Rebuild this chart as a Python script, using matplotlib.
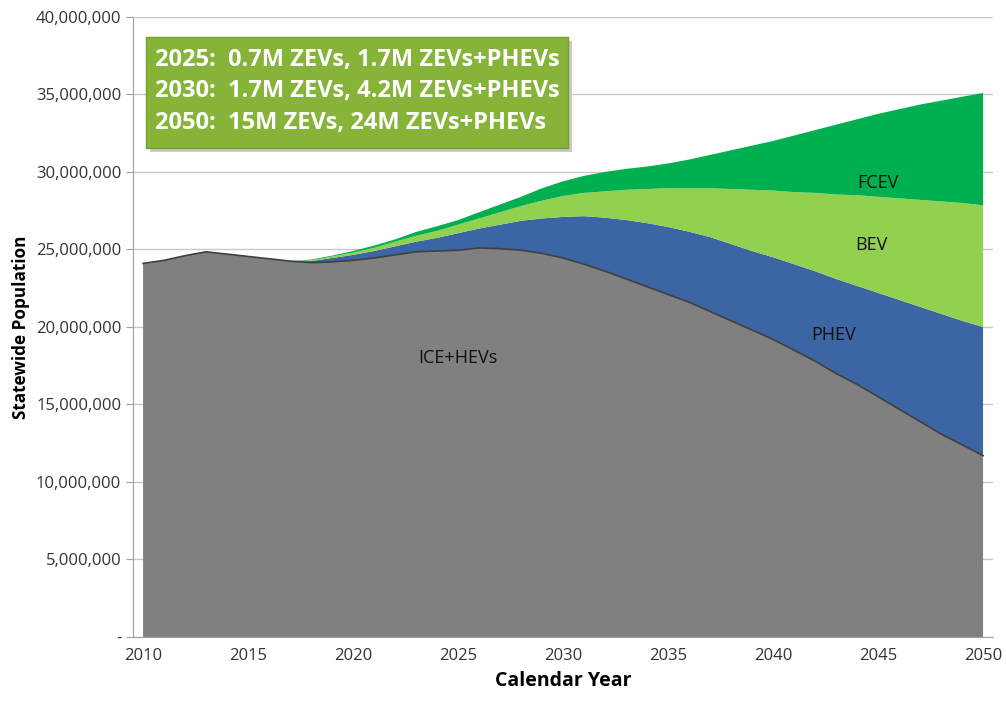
import matplotlib
matplotlib.use("Agg")
import matplotlib.pyplot as plt
import numpy as np
from matplotlib.patches import Rectangle
from matplotlib.ticker import FuncFormatter

plt.rcParams['font.family'] = ['Open Sans', 'DejaVu Sans']

years = list(range(2010, 2051))
ice_hev = [24.1, 24.3, 24.6, 24.85, 24.7, 24.55, 24.4, 24.25, 24.15, 24.2,
           24.3, 24.45, 24.65, 24.85, 24.9, 24.95, 25.1, 25.05, 24.95, 24.75,
           24.45, 24.05, 23.6, 23.1, 22.6, 22.1, 21.6, 21.0, 20.4, 19.8,
           19.2, 18.5, 17.8, 17.0, 16.3, 15.5, 14.7, 13.9, 13.1, 12.4, 11.7]
phev = [0, 0, 0, 0, 0, 0, 0, 0, 0.1, 0.25,
        0.35, 0.45, 0.55, 0.65, 0.85, 1.1, 1.25, 1.55, 1.9, 2.25,
        2.65, 3.1, 3.45, 3.8, 4.1, 4.35, 4.55, 4.8, 4.95, 5.1,
        5.3, 5.55, 5.8, 6.1, 6.35, 6.7, 7.05, 7.4, 7.75, 8.0, 8.3]
bev = [0, 0, 0, 0, 0, 0, 0, 0, 0.05, 0.1,
       0.15, 0.2, 0.3, 0.38, 0.45, 0.55, 0.65, 0.8, 0.95, 1.15,
       1.35, 1.5, 1.7, 1.95, 2.2, 2.5, 2.8, 3.15, 3.55, 3.95,
       4.3, 4.65, 5.05, 5.45, 5.85, 6.2, 6.55, 6.9, 7.25, 7.6, 7.85]
fcev = [0, 0, 0, 0, 0, 0, 0, 0, 0.05, 0.05,
        0.1, 0.15, 0.15, 0.25, 0.3, 0.3, 0.4, 0.5, 0.6, 0.8,
        0.95, 1.1, 1.25, 1.35, 1.45, 1.6, 1.85, 2.15, 2.5, 2.85,
        3.2, 3.65, 4.05, 4.5, 4.9, 5.35, 5.75, 6.15, 6.5, 6.85, 7.25]

series_names = ["ICE+HEVs", "PHEV", "BEV", "FCEV"]
colors = ["#808080", "#3c65a3", "#92d050", "#00b050"]
x_ticks = [2010, 2015, 2020, 2025, 2030, 2035, 2040, 2045, 2050]
y_ticks = [0, 5, 10, 15, 20, 25, 30, 35, 40]
summary_lines = ["2025:  0.7M ZEVs, 1.7M ZEVs+PHEVs",
                 "2030:  1.7M ZEVs, 4.2M ZEVs+PHEVs",
                 "2050:  15M ZEVs, 24M ZEVs+PHEVs"]

fig = plt.figure(figsize=(10.06, 7.04), dpi=100)
ax = fig.add_axes([0.1322, 0.0952, 0.855, 0.8807])

yrs = np.array(years)
vals = [np.array(v) * 1e6 for v in (ice_hev, phev, bev, fcev)]
ax.stackplot(yrs, *vals, colors=colors, linewidth=0, zorder=2)
ax.plot(yrs, vals[0], color="#404040", linewidth=1.2, zorder=3)

ax.set_xlim(2009.52, 2050.48)
ax.set_ylim(0, 40e6)
ax.set_xticks(x_ticks)
ax.set_yticks([v * 1e6 for v in y_ticks])
ax.yaxis.set_major_formatter(FuncFormatter(lambda v, p: "-" if v == 0 else f"{int(v):,}"))
ax.grid(axis='y', color="#c8c8c8", linewidth=1, zorder=0)
ax.set_axisbelow(True)
for s in ["top", "right"]:
    ax.spines[s].set_visible(False)
ax.spines["left"].set_color("#a0a0a0")
ax.spines["bottom"].set_color("#a0a0a0")
ax.tick_params(axis='y', length=5, color="#a0a0a0", labelsize=12, labelcolor="#333333")
ax.tick_params(axis='x', length=0, labelsize=12, labelcolor="#333333", pad=8)
ax.set_xlabel("Calendar Year", fontsize=14, fontweight="bold", labelpad=5)
ax.set_ylabel("Statewide Population", fontsize=12.3, fontweight="bold", labelpad=4)

label_pos = {"ICE+HEVs": (2025.0, 18.0e6), "PHEV": (2042.9, 19.5e6),
             "BEV": (2044.7, 25.3e6), "FCEV": (2045.0, 29.3e6)}
for name in series_names:
    xx, yy = label_pos[name]
    ax.text(xx, yy, name, fontsize=13, color="#111111", ha="center", va="center", zorder=5)

# summary box
bx0, by0, bw, bh = 146 / 1006, 1 - 148 / 704, 422 / 1006, 111 / 704
fig.patches.append(Rectangle((bx0 + 0.004, by0 - 0.006), bw, bh, transform=fig.transFigure,
                             facecolor="#c9c9c9", edgecolor="none", zorder=4))
fig.patches.append(Rectangle((bx0, by0), bw, bh, transform=fig.transFigure,
                             facecolor="#86b438", edgecolor="#74a02c", linewidth=1, zorder=5))
for i, line in enumerate(summary_lines):
    fig.text(155 / 1006, 1 - (60 + 31.5 * i) / 704, line, fontsize=17, fontweight="bold",
             color="white", ha="left", va="center", zorder=6)

fig.savefig("out.png", dpi=100)
